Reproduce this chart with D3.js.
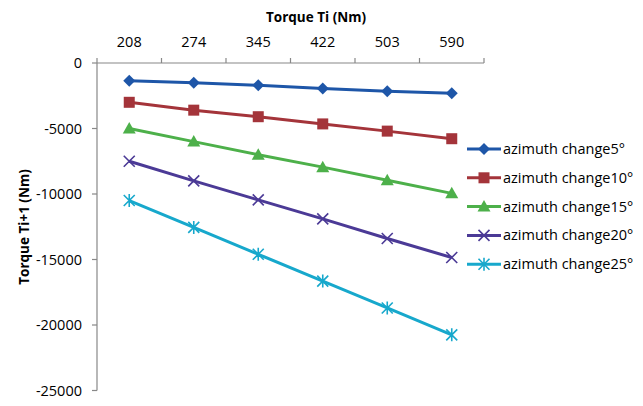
<!DOCTYPE html>
<html><head><meta charset="utf-8">
<script src="https://cdn.jsdelivr.net/npm/d3@7"></script>
<style>
html,body{margin:0;padding:0;background:#fff;}
svg{display:block;font-family:"Open Sans",Lato,sans-serif;}
</style></head>
<body><svg id="c" width="643" height="406"></svg>
<script>
const categories = ["208","274","345","422","503","590"];
const seriesNames = ["azimuth change5°","azimuth change10°","azimuth change15°","azimuth change20°","azimuth change25°"];
const s5  = [-1350,-1500,-1700,-1950,-2150,-2300];
const s10 = [-3000,-3600,-4100,-4650,-5200,-5780];
const s15 = [-5000,-6000,-7000,-7950,-8950,-9950];
const s20 = [-7500,-9000,-10450,-11900,-13400,-14850];
const s25 = [-10500,-12550,-14600,-16650,-18700,-20750];
const yTicks = [0,-5000,-10000,-15000,-20000,-25000];
const colors = ["#1E56A8","#A4343A","#4DB04A","#4B3A96","#17A8CC"];
const markers = ["diamond","square","triangle","x","asterisk"];
const allSeries = [s5,s10,s15,s20,s25];

const svg = d3.select("#c");
const L=97, R=484, T=63, B=390.5;
const x = d3.scaleBand().domain(categories).range([L,R]);
const y = d3.scaleLinear().domain([-25000,0]).range([B,T]);
const axisColor="#888";
const fs = 14.5;

// Top axis (categories, ticks between)
const gx = svg.append("g").attr("transform",`translate(0,${T})`);
gx.append("line").attr("x1",L).attr("x2",R).attr("stroke",axisColor).attr("stroke-width",1.2);
const bounds = categories.map(c=>x(c)).concat([R]);
gx.selectAll(".tk").data(bounds).join("line").attr("x1",d=>d).attr("x2",d=>d).attr("y1",0).attr("y2",-5).attr("stroke",axisColor).attr("stroke-width",1.2);
gx.selectAll(".lb").data(categories).join("text").attr("x",d=>x(d)+x.bandwidth()/2).attr("y",-16)
  .attr("text-anchor","middle").attr("font-size",fs).attr("fill","#000").text(d=>d);

// Left axis
const gy = svg.append("g");
gy.append("line").attr("x1",L).attr("x2",L).attr("y1",T).attr("y2",B).attr("stroke",axisColor).attr("stroke-width",1.2);
gy.selectAll(".tk").data(yTicks).join("line").attr("x1",L-5).attr("x2",L).attr("y1",d=>y(d)).attr("y2",d=>y(d)).attr("stroke",axisColor).attr("stroke-width",1.2);
gy.selectAll(".lb").data(yTicks).join("text").attr("x",82).attr("y",d=>y(d)).attr("dy","0.35em")
  .attr("text-anchor","end").attr("font-size",fs).attr("fill","#000").text(d=>d);

// Titles
svg.append("text").attr("x",316).attr("y",22).attr("text-anchor","middle").attr("font-weight","bold").attr("font-size",13.5).text("Torque Ti (Nm)");
svg.append("text").attr("transform","translate(29,227) rotate(-90)").attr("text-anchor","middle").attr("font-weight","bold").attr("font-size",13.5).text("Torque Ti+1 (Nm)");

function drawMarker(g, type, cx, cy, color){
  if(type==="diamond"){
    g.append("path").attr("d",`M${cx},${cy-6}L${cx+6},${cy}L${cx},${cy+6}L${cx-6},${cy}Z`).attr("fill",color);
  } else if(type==="square"){
    g.append("rect").attr("x",cx-5.5).attr("y",cy-5.5).attr("width",11).attr("height",11).attr("fill",color);
  } else if(type==="triangle"){
    g.append("path").attr("d",`M${cx},${cy-6.5}L${cx+6.5},${cy+5}L${cx-6.5},${cy+5}Z`).attr("fill",color);
  } else if(type==="x"){
    g.append("path").attr("d",`M${cx-5.5},${cy-5.5}L${cx+5.5},${cy+5.5}M${cx-5.5},${cy+5.5}L${cx+5.5},${cy-5.5}`).attr("stroke",color).attr("stroke-width",1.6);
  } else {
    g.append("path").attr("d",`M${cx-5.5},${cy-5.5}L${cx+5.5},${cy+5.5}M${cx-5.5},${cy+5.5}L${cx+5.5},${cy-5.5}M${cx},${cy-6.5}L${cx},${cy+6.5}`).attr("stroke",color).attr("stroke-width",1.6);
  }
}

const line = d3.line().x((d,i)=>x(categories[i])+x.bandwidth()/2).y(d=>y(d));
allSeries.forEach((vals,si)=>{
  const g = svg.append("g");
  g.append("path").datum(vals).attr("d",line).attr("fill","none").attr("stroke",colors[si]).attr("stroke-width",3);
  vals.forEach((v,i)=>drawMarker(g,markers[si],x(categories[i])+x.bandwidth()/2,y(v),colors[si]));
});

// Legend
const lg = svg.append("g");
seriesNames.forEach((n,i)=>{
  const ly = 149 + i*28.8;
  lg.append("line").attr("x1",467).attr("x2",501).attr("y1",ly).attr("y2",ly).attr("stroke",colors[i]).attr("stroke-width",3);
  drawMarker(lg,markers[i],484,ly,colors[i]);
  lg.append("text").attr("x",503).attr("y",ly).attr("dy","0.35em").attr("font-size",fs).attr("fill","#000").text(n);
});
</script></body></html>
